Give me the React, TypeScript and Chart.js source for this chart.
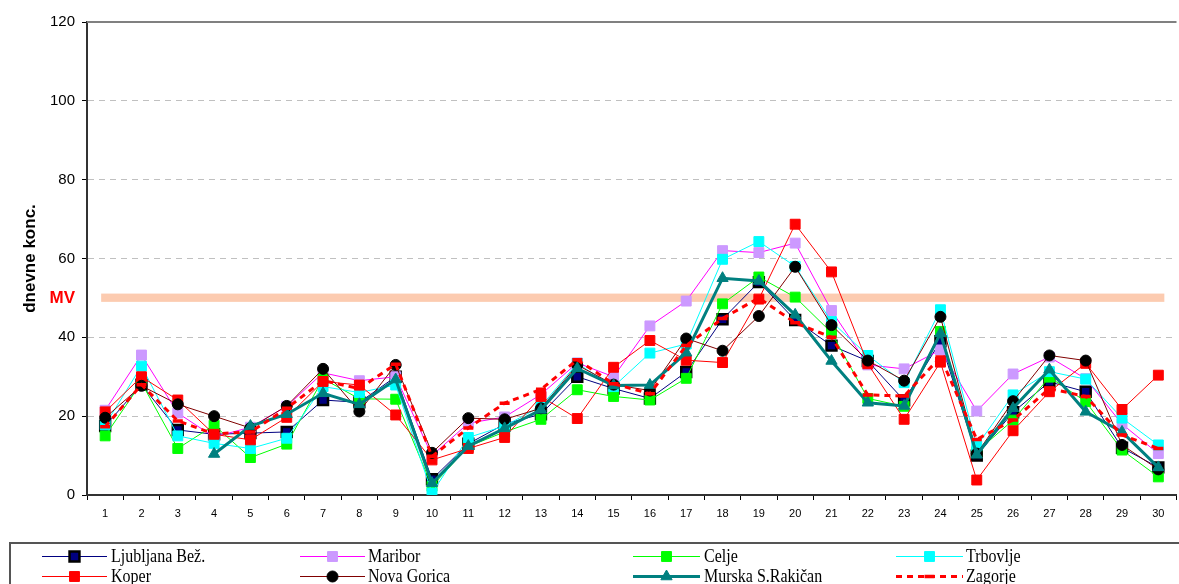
import React, { useEffect, useRef } from 'react';
import { Chart, registerables } from 'chart.js';
import { drawPoint } from 'chart.js/helpers';

Chart.register(...registerables);

const days = ['1','2','3','4','5','6','7','8','9','10','11','12','13','14','15','16','17','18','19','20','21','22','23','24','25','26','27','28','29','30'];

const ljubljana = [17.5, 28, 16.5, 15.4, 15.7, 16, 24.1, 23.5, 30, 4, 13, 18, 20.5, 30, 27, 24.5, 31.2, 44.6, 54, 44.4, 37.9, 34, 24, 39, 10, 21, 28.7, 26.2, 12, 7];
const maribor = [21.5, 35.5, 20.8, 14.7, 17.2, 22.5, 31, 29, 30, 10, 18.2, 19.8, 25.5, 33.5, 30, 42.9, 49.2, 62, 61.5, 63.9, 46.8, 33, 32, 36.8, 21.3, 30.7, 35, 29.5, 18, 10.5];
const celje = [15, 28.5, 11.8, 17.7, 9.5, 12.9, 29.5, 24.4, 24.3, 2.2, 12.3, 16, 19.2, 26.7, 25, 24.1, 29.6, 48.5, 55.3, 50.2, 41.2, 24.5, 22.5, 41.5, 11, 19, 29.9, 23.7, 11.4, 4.6];
const trbovlje = [17.8, 32.7, 15, 13.1, 11.8, 14.4, 27.5, 26, 27.9, 0.5, 14.6, 17.5, 22.5, 33.4, 27.5, 36, 38.3, 59.8, 64.3, 58, 44, 35.4, 28.5, 47, 12.4, 25.4, 31.3, 29.4, 19.5, 12.7];
const koper = [21.1, 30, 24.1, 15.4, 14, 19.7, 28.8, 27.9, 20.3, 8.9, 11.8, 14.6, 25, 19.4, 32.4, 39.2, 34.2, 33.6, 49.7, 68.7, 56.6, 33.3, 19.2, 33.7, 3.8, 16.3, 26.2, 33.4, 21.7, 30.4];
const novaGorica = [19.6, 27.7, 23, 20, 17, 22.6, 32, 21.2, 33, 10.7, 19.5, 19.2, 22, 33, 28, 26.5, 39.7, 36.6, 45.4, 57.9, 43.1, 34.1, 29, 45.2, 10.5, 23.8, 35.4, 34.1, 12.7, 6.5];
const murska = [null, null, null, 10.4, 17.5, 20.5, 25.8, 23, 29.3, 3, 12.4, 16.9, 21.6, 32.1, 27.8, 27.9, 36.1, 55, 54.3, 45.7, 34, 23.4, 22.6, 41, 10.2, 22, 31.8, 21.1, 16, 7];
const zagorje = [17.3, 28, 18.8, 15.5, 16, 22, 29, 27, 33.2, 9.8, 17, 23.3, 26.8, 34.3, 28.2, 25.7, 37.9, 44.8, 50, 43.7, 40, 25.4, 25.1, 35, 14.1, 19, 27, 25, 15.2, 11.8];

const seriesNames = ['Ljubljana Bež.', 'Maribor', 'Celje', 'Trbovlje', 'Koper', 'Nova Gorica', 'Murska S.Rakičan', 'Zagorje'];
const seriesValues = [ljubljana, maribor, celje, trbovlje, koper, novaGorica, murska, zagorje];

const yTickValues = [0, 20, 40, 60, 80, 100, 120];
const MV_VALUE = 50;
const MV_LABEL = 'MV';
const Y_TITLE = 'dnevne konc.';

const styles = [
  { line: '#000080', width: 1, dash: [], point: 'rect', r: 7, fill: '#000080', border: '#000000', bw: 2.5 },
  { line: '#FF00FF', width: 1, dash: [], point: 'rect', r: 7, fill: '#CC99FF', border: '#CC99FF', bw: 1 },
  { line: '#00FF00', width: 1, dash: [], point: 'rect', r: 7, fill: '#00FF00', border: '#00FF00', bw: 1 },
  { line: '#00FFFF', width: 1, dash: [], point: 'rect', r: 7, fill: '#00FFFF', border: '#00FFFF', bw: 1 },
  { line: '#FF0000', width: 1, dash: [], point: 'rect', r: 7, fill: '#FF0000', border: '#FF0000', bw: 1 },
  { line: '#800000', width: 1, dash: [], point: 'circle', r: 5.5, fill: '#000000', border: '#000000', bw: 1 },
  { line: '#008080', width: 3, dash: [], point: 'triangle', r: 6.5, fill: '#008080', border: '#008080', bw: 1 },
  { line: '#FF0000', width: 3, dash: [6, 5], point: 'line', r: 5, fill: '#FF0000', border: '#FF0000', bw: 3.5 },
];

const SANS = '"Liberation Sans", Arial, sans-serif';
const SERIF = '"Liberation Serif", "Times New Roman", serif';

const legendCols = [
  { x1: 42, x2: 107, tx: 111 },
  { x1: 300, x2: 365, tx: 368 },
  { x1: 633, x2: 700, tx: 704 },
  { x1: 896, x2: 963, tx: 966 },
];
const legendRows = [556.5, 576.5];

const decorPlugin = {
  id: 'decor',
  beforeDatasetsDraw(chart: any) {
    const { ctx, chartArea, scales } = chart;
    const x = scales.x, y = scales.y;
    const x1 = x.getPixelForValue(0) - 4;
    const x2 = x.getPixelForValue(days.length - 1) + 6;
    const yTop = y.getPixelForValue(MV_VALUE + 1.1);
    const yBot = y.getPixelForValue(MV_VALUE - 1);
    ctx.save();
    ctx.fillStyle = '#FCCBB0';
    ctx.fillRect(x1, yTop, x2 - x1, yBot - yTop);
    ctx.restore();
    ctx.save();
    ctx.strokeStyle = '#808080';
    ctx.lineWidth = 2;
    ctx.beginPath();
    ctx.moveTo(chartArea.left, chartArea.top);
    ctx.lineTo(chartArea.right, chartArea.top);
    ctx.stroke();
    ctx.restore();
  },
  afterDraw(chart: any) {
    const { ctx } = chart;
    ctx.save();
    ctx.strokeStyle = '#555555';
    ctx.lineWidth = 2;
    ctx.strokeRect(10, 543, chart.width + 20, 60);
    chart.data.datasets.forEach((ds: any, i: number) => {
      const col = legendCols[i % 4];
      const yy = legendRows[Math.floor(i / 4)];
      const st = styles[i];
      ctx.save();
      ctx.strokeStyle = ds.borderColor;
      ctx.lineWidth = ds.borderWidth;
      ctx.setLineDash(ds.borderDash || []);
      ctx.beginPath();
      ctx.moveTo(col.x1, yy);
      ctx.lineTo(col.x2, yy);
      ctx.stroke();
      ctx.setLineDash([]);
      ctx.fillStyle = st.fill;
      ctx.strokeStyle = st.border;
      ctx.lineWidth = st.bw;
      drawPoint(ctx, { pointStyle: st.point, radius: st.r, rotation: 0, borderWidth: st.bw }, (col.x1 + col.x2) / 2, yy);
      ctx.restore();
      ctx.save();
      ctx.translate(col.tx, yy + 1);
      ctx.scale(1, 1.15);
      ctx.fillStyle = '#000';
      ctx.font = '16px ' + SERIF;
      ctx.textBaseline = 'middle';
      ctx.textAlign = 'left';
      ctx.fillText(ds.label, 0, 0);
      ctx.restore();
    });
    ctx.restore();
  },
};

export default function App() {
  const ref = useRef<HTMLCanvasElement | null>(null);
  useEffect(() => {
    document.body.style.margin = '0';
    const canvas = ref.current!;
    const chart = new Chart(canvas, {
      type: 'line',
      data: {
        labels: days,
        datasets: seriesValues.map((vals, i) => ({
          label: seriesNames[i],
          data: vals,
          borderColor: styles[i].line,
          borderWidth: styles[i].width,
          borderDash: styles[i].dash,
          pointStyle: styles[i].point as any,
          pointRadius: styles[i].r,
          pointBackgroundColor: styles[i].fill,
          pointBorderColor: styles[i].border,
          pointBorderWidth: styles[i].bw,
          tension: 0,
          fill: false,
          spanGaps: false,
          order: seriesNames.length - i,
        })),
      },
      options: {
        animation: false,
        responsive: false,
        devicePixelRatio: 1,
        events: [],
        layout: { padding: { top: 22, left: 0, right: 0, bottom: 0 } },
        plugins: { legend: { display: false }, tooltip: { enabled: false }, title: { display: false } },
        scales: {
          x: {
            type: 'category',
            offset: true,
            afterFit: (s: any) => { s.height = 89; },
            grid: { offset: true, drawOnChartArea: false, drawTicks: true, tickLength: 5, tickColor: '#000', color: '#000' },
            border: { display: true, color: '#333333', width: 2 },
            ticks: { color: '#000', font: { size: 11, family: SANS }, padding: 7, maxRotation: 0, autoSkip: false },
          },
          y: {
            min: 0,
            max: 120,
            afterBuildTicks: (s: any) => {
              s.ticks = [...yTickValues.map((v) => ({ value: v })), { value: MV_VALUE }].sort((a, b) => a.value - b.value);
            },
            afterFit: (s: any) => { s.width = 87; },
            grid: {
              color: (c: any) => {
                const v = c.tick ? c.tick.value : -1;
                return v > 0 && v < 120 && v !== MV_VALUE ? '#C0C0C0' : 'rgba(0,0,0,0)';
              },
              tickColor: (c: any) => (c.tick && c.tick.value === MV_VALUE ? 'rgba(0,0,0,0)' : '#000'),
              tickLength: 5,
              lineWidth: 1,
            },
            border: { display: true, color: '#333333', width: 2, dash: [6, 5] },
            ticks: {
              padding: 7,
              color: (c: any) => (c.tick && c.tick.value === MV_VALUE ? '#FF0000' : '#000'),
              font: (c: any) => (c.tick && c.tick.value === MV_VALUE ? { size: 17, weight: 'bold', family: SANS } : { size: 15, family: SANS }),
              callback: (v: any) => (v === MV_VALUE ? MV_LABEL : String(v)),
            },
            title: { display: true, text: Y_TITLE, color: '#000', font: { size: 17, weight: 'bold', family: SANS }, padding: { top: 20, bottom: 0 } },
          },
        },
      },
      plugins: [decorPlugin],
    });
    return () => chart.destroy();
  }, []);
  return (
    <div style={{ width: 1179, height: 584, overflow: 'hidden', position: 'relative' }}>
      <canvas ref={ref} width={1186} height={584} style={{ display: 'block' }} />
    </div>
  );
}
